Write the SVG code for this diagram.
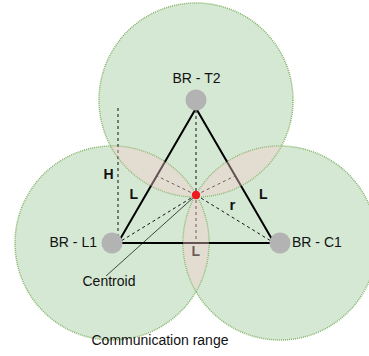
<svg xmlns="http://www.w3.org/2000/svg" width="369" height="356" viewBox="0 0 369 356">
  <style>
    .range-fill { fill: #d5e8d4; stroke: none; }
    .range-edge { fill: none; stroke: #82b366; stroke-width: 1.5; stroke-dasharray: 1 1; }
    .overlap { fill: #f8cecc; fill-opacity: 0.4; stroke: none; }
    .side { stroke: #000; stroke-width: 2; fill: none; stroke-linecap: round; }
    .dash { stroke: #111; stroke-width: 1; fill: none; stroke-dasharray: 3 3; }
    .pointer { stroke: #000; stroke-width: 0.7; fill: none; }
    .br { fill: #b3b3b3; stroke: none; }
    .label { font-family: "Liberation Sans", Arial, Helvetica, sans-serif; font-size: 14px; fill: #111; }
    .dim { font-family: "Liberation Sans", Arial, Helvetica, sans-serif; font-size: 14px; font-weight: bold; fill: #111; }
  </style>

  <!-- communication ranges of the three border routers -->
  <g id="ranges">
    <circle class="range-fill" cx="196" cy="100" r="97"/>
    <circle class="range-fill" cx="112" cy="243" r="97"/>
    <circle class="range-fill" cx="280" cy="243" r="97"/>
    <circle class="range-edge" cx="196" cy="100" r="97"/>
    <circle class="range-edge" cx="112" cy="243" r="97"/>
    <circle class="range-edge" cx="280" cy="243" r="97"/>
  </g>

  <!-- triangle sides, heights and helper lines -->
  <g id="connectors">
    <line class="side" x1="195" y1="110" x2="119" y2="241"/>
    <line class="side" x1="197" y1="110" x2="273" y2="241"/>
    <line class="side" x1="121" y1="243" x2="271" y2="243"/>
    <line class="dash" x1="196" y1="110" x2="196" y2="243"/>
    <line class="dash" x1="118" y1="108" x2="118" y2="236"/>
    <line class="dash" x1="196" y1="195" x2="121" y2="241"/>
    <line class="dash" x1="196" y1="195" x2="271" y2="241"/>
    <line class="dash" x1="196" y1="195" x2="157" y2="176"/>
    <line class="dash" x1="196" y1="195" x2="235" y2="176"/>
    <line class="pointer" x1="194" y1="197" x2="106" y2="276"/>
  </g>

  <!-- side and distance labels -->
  <g id="dimensions">
    <text class="dim" x="103.5" y="178.5">H</text>
    <text class="dim" x="129.5" y="199">L</text>
    <text class="dim" x="259" y="199">L</text>
    <text class="dim" x="229.5" y="210" style="font-size:15px">r</text>
    <text class="dim" x="191.5" y="256">L</text>
  </g>

  <!-- pairwise overlap lenses -->
  <g id="overlaps">
    <path class="overlap" d="M110.6 146.01 A97 97 0 0 0 197.4 196.99 A97 97 0 0 0 110.6 146.01 Z"/>
    <path class="overlap" d="M281.4 146.01 A97 97 0 0 1 194.6 196.99 A97 97 0 0 1 281.4 146.01 Z"/>
    <path class="overlap" d="M196 194.49 A97 97 0 0 1 196 291.51 A97 97 0 0 1 196 194.49 Z"/>
  </g>

  <g id="centroid">
    <circle cx="196" cy="195" r="4.2" fill="#f01a1e"/>
    <text class="label" x="82.5" y="286">Centroid</text>
  </g>

  <g id="node-t2">
    <circle class="br" cx="196" cy="100" r="10.5"/>
    <text class="label" x="196.5" y="83" text-anchor="middle">BR - T2</text>
  </g>

  <g id="node-l1">
    <circle class="br" cx="112" cy="243" r="10.5"/>
    <text class="label" x="97" y="247" text-anchor="end">BR - L1</text>
  </g>

  <g id="node-c1">
    <circle class="br" cx="280" cy="243" r="10.5"/>
    <text class="label" x="292" y="247">BR - C1</text>
  </g>

  <g id="range-caption">
    <text class="label" x="91.5" y="345">Communication range</text>
  </g>
</svg>
